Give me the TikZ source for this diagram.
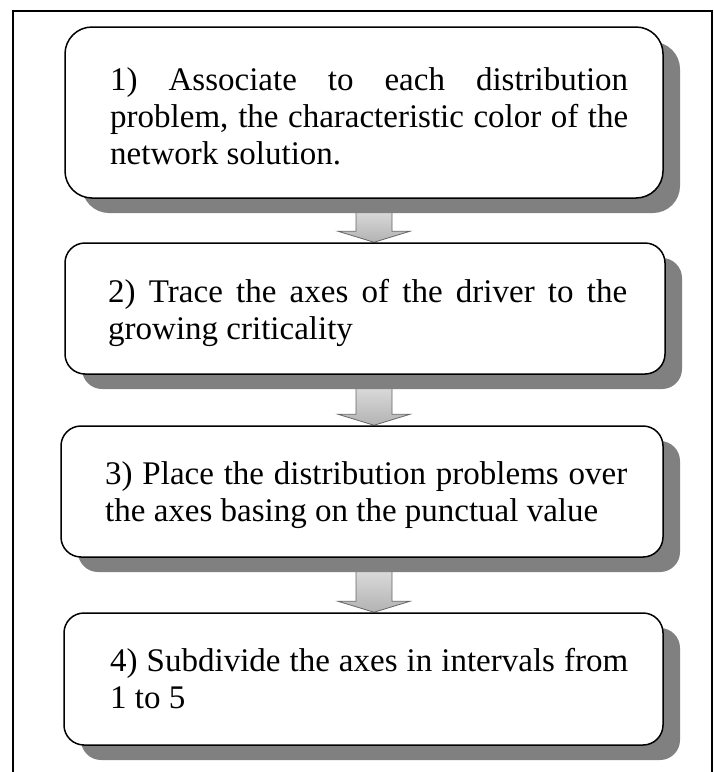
\documentclass[tikz,border=0pt]{standalone}
\usepackage{fontspec}
\setmainfont{Liberation Serif}
\usetikzlibrary{calc,shadows}
\definecolor{shadowgray}{HTML}{808080}
\pgfdeclarelayer{behind}
\pgfsetlayers{behind,main}
% use the font's own stretchable interword glue
\newcommand{\fontspaces}{\spaceskip=0pt\xspaceskip=0pt\relax}
% a justified line of a given width inside a text node
\newcommand{\jline}[2]{\makebox[#1][s]{#2}}

\begin{document}
\begin{tikzpicture}[x=1pt,y=-1pt,
  panel/.style={draw=black, line width=1.5pt, fill=white, rounded corners=#1,
    inner sep=0pt,
    drop shadow={shadow xshift=17pt, shadow yshift=-15pt, fill=shadowgray, opacity=1}},
  boxtext/.style={anchor=base west, inner sep=0pt, text width=#1, align=left,
    font=\fontsize{33}{37}\selectfont},
  flowarrow/.style={top color=gray!25, bottom color=gray!60,
    draw=gray!80!black, line width=0.8pt}]

\useasboundingbox (0,0) rectangle (714,772);

% outer frame (open at the bottom)
\draw[line width=2pt] (13,772) -- (13,11) -- (712,11) -- (712,772);

% step panels
\node[panel=27pt, minimum width=598pt, minimum height=171pt] (b1) at (364,112.5) {};
\node[panel=20pt, minimum width=600pt, minimum height=131pt] (b2) at (365,308.5) {};
\node[panel=20pt, minimum width=602pt, minimum height=131pt] (b3) at (362,491.5) {};
\node[panel=20pt, minimum width=599pt, minimum height=132pt] (b4) at (363.5,679) {};

% step texts
\node[boxtext=530pt] (t1) at (110,90)
  {\fontspaces
   \jline{518pt}{1) Associate to each distribution}\\
   \jline{518pt}{problem, the characteristic color of the}\\
   network solution.};
\node[boxtext=530pt] (t2) at (108,302)
  {\fontspaces
   \jline{519pt}{2) Trace the axes of the driver to the}\\
   growing criticality};
\node[boxtext=530pt] (t3) at (105,484)
  {\fontspaces
   \jline{522pt}{3) Place the distribution problems over}\\
   the axes basing on the punctual value};
\node[boxtext=530pt] (t4) at (110,671)
  {\fontspaces
   \jline{518pt}{4) Subdivide the axes in intervals from}\\
   1 to 5};

% block arrows between consecutive panels
\coordinate (ax) at (374,0);
\begin{pgfonlayer}{behind}
\foreach \u/\v in {b1/b2, b2/b3, b3/b4} {
  \path[flowarrow]
    ($(\u.south -| ax)+(-18,8)$) -- ($(\v.north -| ax)+(-18,-11)$) -- ++(-18,0)
    -- (\v.north -| ax) -- ($(\v.north -| ax)+(36,-11)$) -- ++(-18,0)
    -- ($(\u.south -| ax)+(18,8)$) -- cycle;
}
\end{pgfonlayer}
\end{tikzpicture}
\end{document}
